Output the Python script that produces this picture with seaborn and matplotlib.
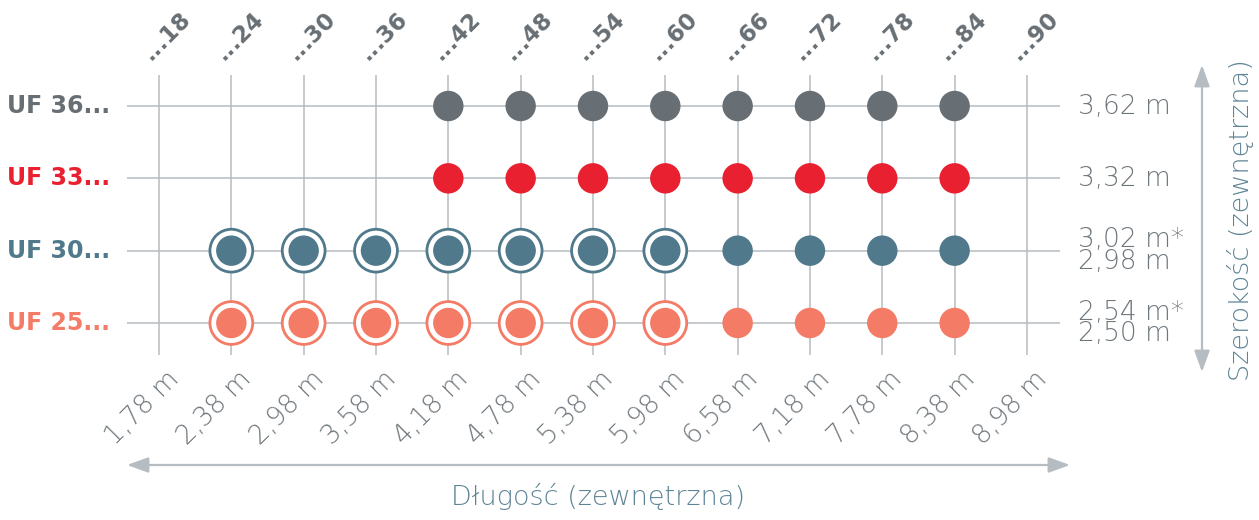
import pandas as pd
import numpy as np
import matplotlib.pyplot as plt
import seaborn as sns
from matplotlib.patches import FancyArrowPatch
import matplotlib.transforms as mtransforms

# 1. style
sns.set_style('white')
plt.rcParams['font.family'] = ['DejaVu Sans']

# 2. data
top_labels = ['...18', '...24', '...30', '...36', '...42', '...48', '...54',
              '...60', '...66', '...72', '...78', '...84', '...90']
lengths = ['1,78 m', '2,38 m', '2,98 m', '3,58 m', '4,18 m', '4,78 m', '5,38 m',
           '5,98 m', '6,58 m', '7,18 m', '7,78 m', '8,38 m', '8,98 m']
series = ['UF 25...', 'UF 30...', 'UF 33...', 'UF 36...']
widths = ['2,54 m*\n2,50 m', '3,02 m*\n2,98 m', '3,32 m', '3,62 m']
colors = ['#f47b65', '#50798b', '#e9202f', '#686f74']

uf25 = [0, 1, 1, 1, 1, 1, 1, 1, 1, 1, 1, 1, 0]
uf30 = [0, 1, 1, 1, 1, 1, 1, 1, 1, 1, 1, 1, 0]
uf33 = [0, 0, 0, 0, 1, 1, 1, 1, 1, 1, 1, 1, 0]
uf36 = [0, 0, 0, 0, 1, 1, 1, 1, 1, 1, 1, 1, 0]
ring25 = [0, 1, 1, 1, 1, 1, 1, 1, 0, 0, 0, 0, 0]
ring30 = [0, 1, 1, 1, 1, 1, 1, 1, 0, 0, 0, 0, 0]

rows = []
for s, dots, rings in zip(series, [uf25, uf30, uf33, uf36],
                          [ring25, ring30, [0] * 13, [0] * 13]):
    for i, col in enumerate(top_labels):
        if dots[i]:
            rows.append({'kolumna': i, 'model': s, 'wiersz': series.index(s),
                         'ring': rings[i]})
df = pd.DataFrame(rows)
pal = dict(zip(series, colors))

# 3. figure
fig = plt.figure(figsize=(12.59, 5.2), dpi=100)
ax = fig.add_axes([127 / 1259, 165 / 520, 933 / 1259, 280 / 520])
u = 72.33
ax.set_xlim(-32 / u, -32 / u + 933 / u)
ax.set_ylim(-32 / u, -32 / u + 280 / u)
ax.set_xticks(range(len(top_labels)))
ax.set_yticks(range(len(series)))
ax.grid(True, color='#b5bcc2', linewidth=1.1)
ax.set_axisbelow(True)
ax.tick_params(length=0, labelbottom=False, labelleft=False)
for sp in ax.spines.values():
    sp.set_visible(False)

# rings (white inside, colored edge)
sns.scatterplot(data=df[df['ring'] == 1], x='kolumna', y='wiersz', hue='model',
                palette=pal, s=950, linewidth=2.0, legend=False, ax=ax, zorder=3)
ring_coll = ax.collections[-1]
ring_coll.set_edgecolors(ring_coll.get_facecolors())
ring_coll.set_facecolors('white')

# dots
sns.scatterplot(data=df, x='kolumna', y='wiersz', hue='model', palette=pal,
                s=480, linewidth=0, legend=False, ax=ax, zorder=4)
ax.set_xlabel('')
ax.set_ylabel('')

light = dict(family=['DejaVu Sans'], fontweight=200)
tx = mtransforms.blended_transform_factory(ax.transData, ax.transAxes)
ty = mtransforms.blended_transform_factory(ax.transAxes, ax.transData)

# top labels
for i, lab in enumerate(top_labels):
    ax.text(i - 0.11, 1.05, lab, transform=tx, rotation=45, rotation_mode='anchor',
            ha='left', va='baseline', fontsize=16.5, fontweight='bold',
            color='#686f74', clip_on=False)

# bottom labels
for i, lab in enumerate(lengths):
    ax.text(i + 0.1, -0.04, lab, transform=tx, rotation=45, rotation_mode='anchor',
            ha='right', va='top', fontsize=19, color='#6e767b', clip_on=False, **light)

# left labels
for j, lab in enumerate(series):
    ax.text(-0.018, j, lab, transform=ty, ha='right', va='center', fontsize=17,
            fontweight='bold', color=colors[j], clip_on=False)

# right labels
for j, lab in enumerate(widths):
    ax.text(1.019, j, lab, transform=ty, ha='left', va='center', fontsize=19,
            color='#6e767b', linespacing=0.82, clip_on=False, **light)

# arrows
arrow_kw = dict(arrowstyle='<|-|>,head_length=1.3,head_width=0.47',
                mutation_scale=10, color='#b5bcc2', linewidth=1.6,
                transform=fig.transFigure, shrinkA=0, shrinkB=0)
fig.add_artist(FancyArrowPatch((127 / 1259, 55 / 520), (1070 / 1259, 55 / 520), **arrow_kw))
fig.add_artist(FancyArrowPatch((1202 / 1259, 148 / 520), (1202 / 1259, 455 / 520), **arrow_kw))

# axis titles
fig.text(598 / 1259, 23 / 520, 'Długość (zewnętrzna)', ha='center', va='center',
         fontsize=19.5, color='#5e8496', **light)
fig.text(1240 / 1259, 300 / 520, 'Szerokość (zewnętrzna)', ha='center', va='center',
         rotation=90, fontsize=19.5, color='#5e8496', **light)

fig.savefig('out.png', dpi=100)
